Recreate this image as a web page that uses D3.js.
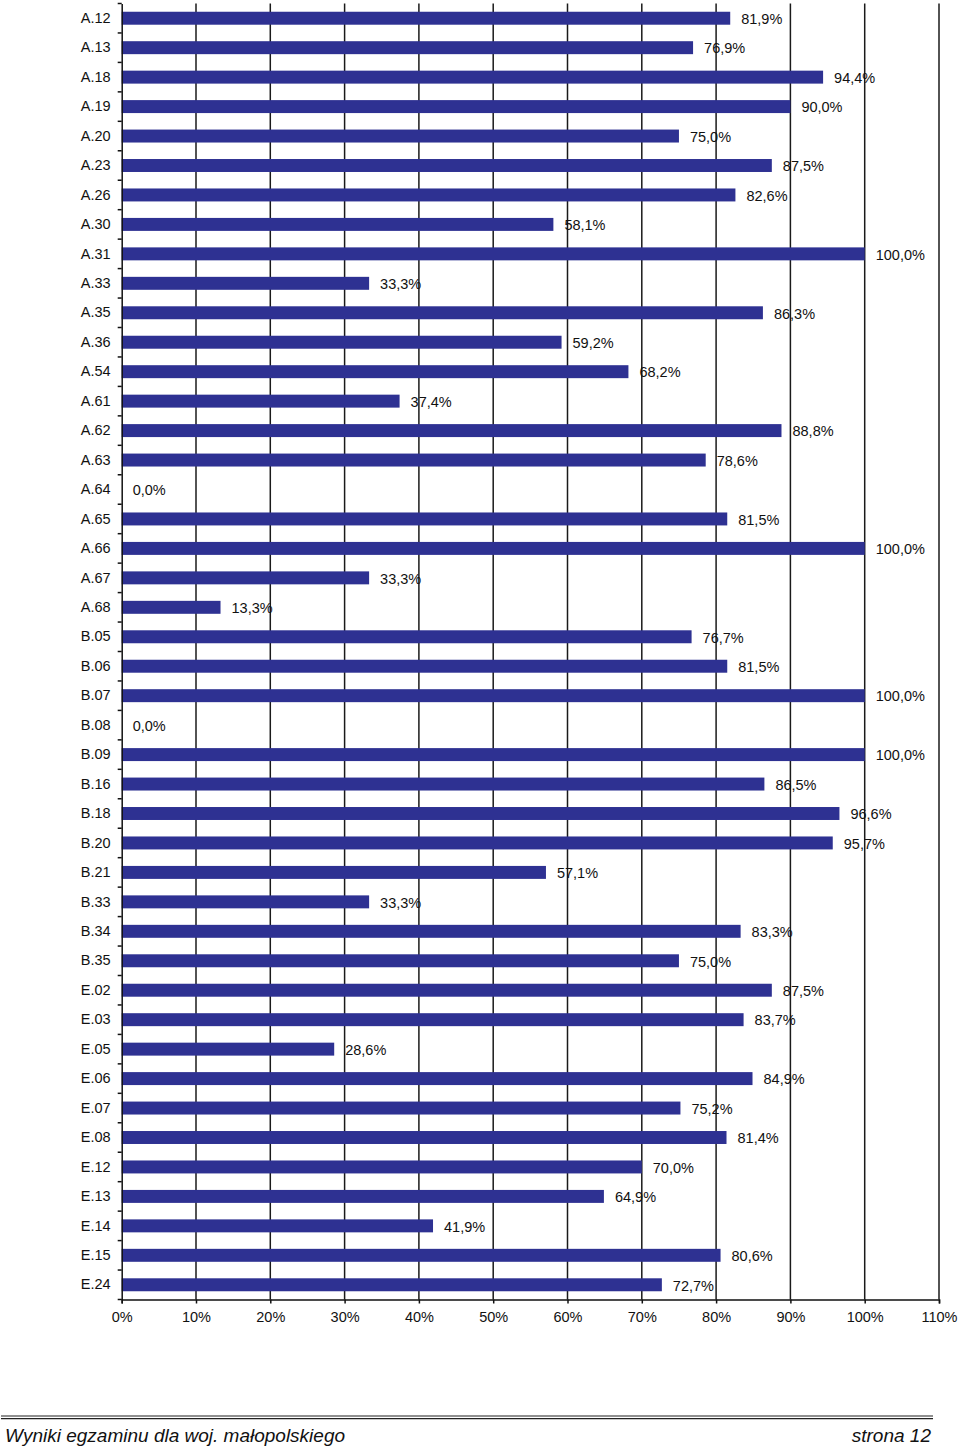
<!DOCTYPE html>
<html><head><meta charset="utf-8">
<script src="https://cdn.jsdelivr.net/npm/d3@7"></script>
<style>
html,body{margin:0;padding:0;background:#fff;}
svg{display:block;font-family:"Liberation Sans",Arial,Helvetica,sans-serif;}
</style></head>
<body>
<svg id="c" width="960" height="1447"></svg>
<script>
const categories = ["A.12","A.13","A.18","A.19","A.20","A.23","A.26","A.30","A.31","A.33","A.35","A.36","A.54","A.61","A.62","A.63","A.64","A.65","A.66","A.67","A.68","B.05","B.06","B.07","B.08","B.09","B.16","B.18","B.20","B.21","B.33","B.34","B.35","E.02","E.03","E.05","E.06","E.07","E.08","E.12","E.13","E.14","E.15","E.24"];
const values = [81.9,76.9,94.4,90.0,75.0,87.5,82.6,58.1,100.0,33.3,86.3,59.2,68.2,37.4,88.8,78.6,0.0,81.5,100.0,33.3,13.3,76.7,81.5,100.0,0.0,100.0,86.5,96.6,95.7,57.1,33.3,83.3,75.0,87.5,83.7,28.6,84.9,75.2,81.4,70.0,64.9,41.9,80.6,72.7];
const xTicks = [0,10,20,30,40,50,60,70,80,90,100,110];
const footerLeft = "Wyniki egzaminu dla woj. małopolskiego";
const footerRight = "strona 12";

(function(){
const svg = d3.select("#c");
const mLeft = 121.7, mRight = 939, mTop = 3.5, mBottom = 1299.5;
const x = d3.scaleLinear().domain([0,110]).range([mLeft,mRight]);
const y = d3.scaleBand().domain(categories).range([mTop,mBottom]).paddingInner(0.56).paddingOuter(0.28);
const yb = d3.scaleBand().domain(categories).range([mTop,mBottom]);
const fmt = v => v.toFixed(1).replace(".", ",") + "%";

// gridlines
svg.append("g").selectAll("line").data(xTicks.slice(1)).join("line")
  .attr("x1", d=>x(d)).attr("x2", d=>x(d)).attr("y1", mTop).attr("y2", mBottom)
  .attr("stroke", "#1a1a1a").attr("stroke-width", 1.5);

// bars
svg.append("g").selectAll("rect").data(categories).join("rect")
  .attr("x", x(0)).attr("y", d=>y(d))
  .attr("width", (d,i)=>x(values[i]) - x(0))
  .attr("height", y.bandwidth())
  .attr("fill", "#2e3192");

// value labels
svg.append("g").selectAll("text").data(categories).join("text")
  .attr("x", (d,i)=>x(values[i]) + 11)
  .attr("y", d=>yb(d) + yb.bandwidth()/2)
  .attr("dy", "0.4em")
  .attr("font-size", 14.5).attr("fill", "#111")
  .text((d,i)=>fmt(values[i]));

// y axis
const yAxis = d3.axisLeft(yb).tickSize(0).tickPadding(11);
const gy = svg.append("g").attr("transform", `translate(${mLeft},0)`).call(yAxis);
gy.select(".domain").attr("stroke", "#111").attr("stroke-width", 1.5);
gy.selectAll("text").attr("font-size", 14.5).attr("fill", "#111").attr("font-family", "Liberation Sans, Arial, sans-serif");
// boundary ticks
const bounds = categories.map(d=>yb(d)).concat([mBottom]);
svg.append("g").selectAll("line").data(bounds).join("line")
  .attr("x1", mLeft-4).attr("x2", mLeft).attr("y1", d=>d).attr("y2", d=>d)
  .attr("stroke", "#111").attr("stroke-width", 1.5);

// x axis
const xAxis = d3.axisBottom(x).tickValues(xTicks).tickSize(4).tickPadding(8).tickFormat(d=>d+"%");
const gx = svg.append("g").attr("transform", `translate(0,${mBottom})`).call(xAxis);
gx.select(".domain").attr("stroke", "#111").attr("stroke-width", 1.5);
gx.selectAll(".tick line").attr("stroke", "#111").attr("stroke-width", 1.5);
gx.selectAll("text").attr("font-size", 14.5).attr("fill", "#111").attr("font-family", "Liberation Sans, Arial, sans-serif");

// footer
svg.append("line").attr("x1", 1).attr("x2", 933).attr("y1", 1416).attr("y2", 1416).attr("stroke", "#222").attr("stroke-width", 1.2);
svg.append("line").attr("x1", 1).attr("x2", 933).attr("y1", 1418.6).attr("y2", 1418.6).attr("stroke", "#222").attr("stroke-width", 1.2);
svg.append("text").attr("x", 5).attr("y", 1442).attr("font-size", 19).attr("font-style", "italic").attr("fill", "#111").text(footerLeft);
svg.append("text").attr("x", 931).attr("y", 1442).attr("text-anchor", "end").attr("font-size", 19).attr("font-style", "italic").attr("fill", "#111").text(footerRight);
})();
</script>
</body></html>
